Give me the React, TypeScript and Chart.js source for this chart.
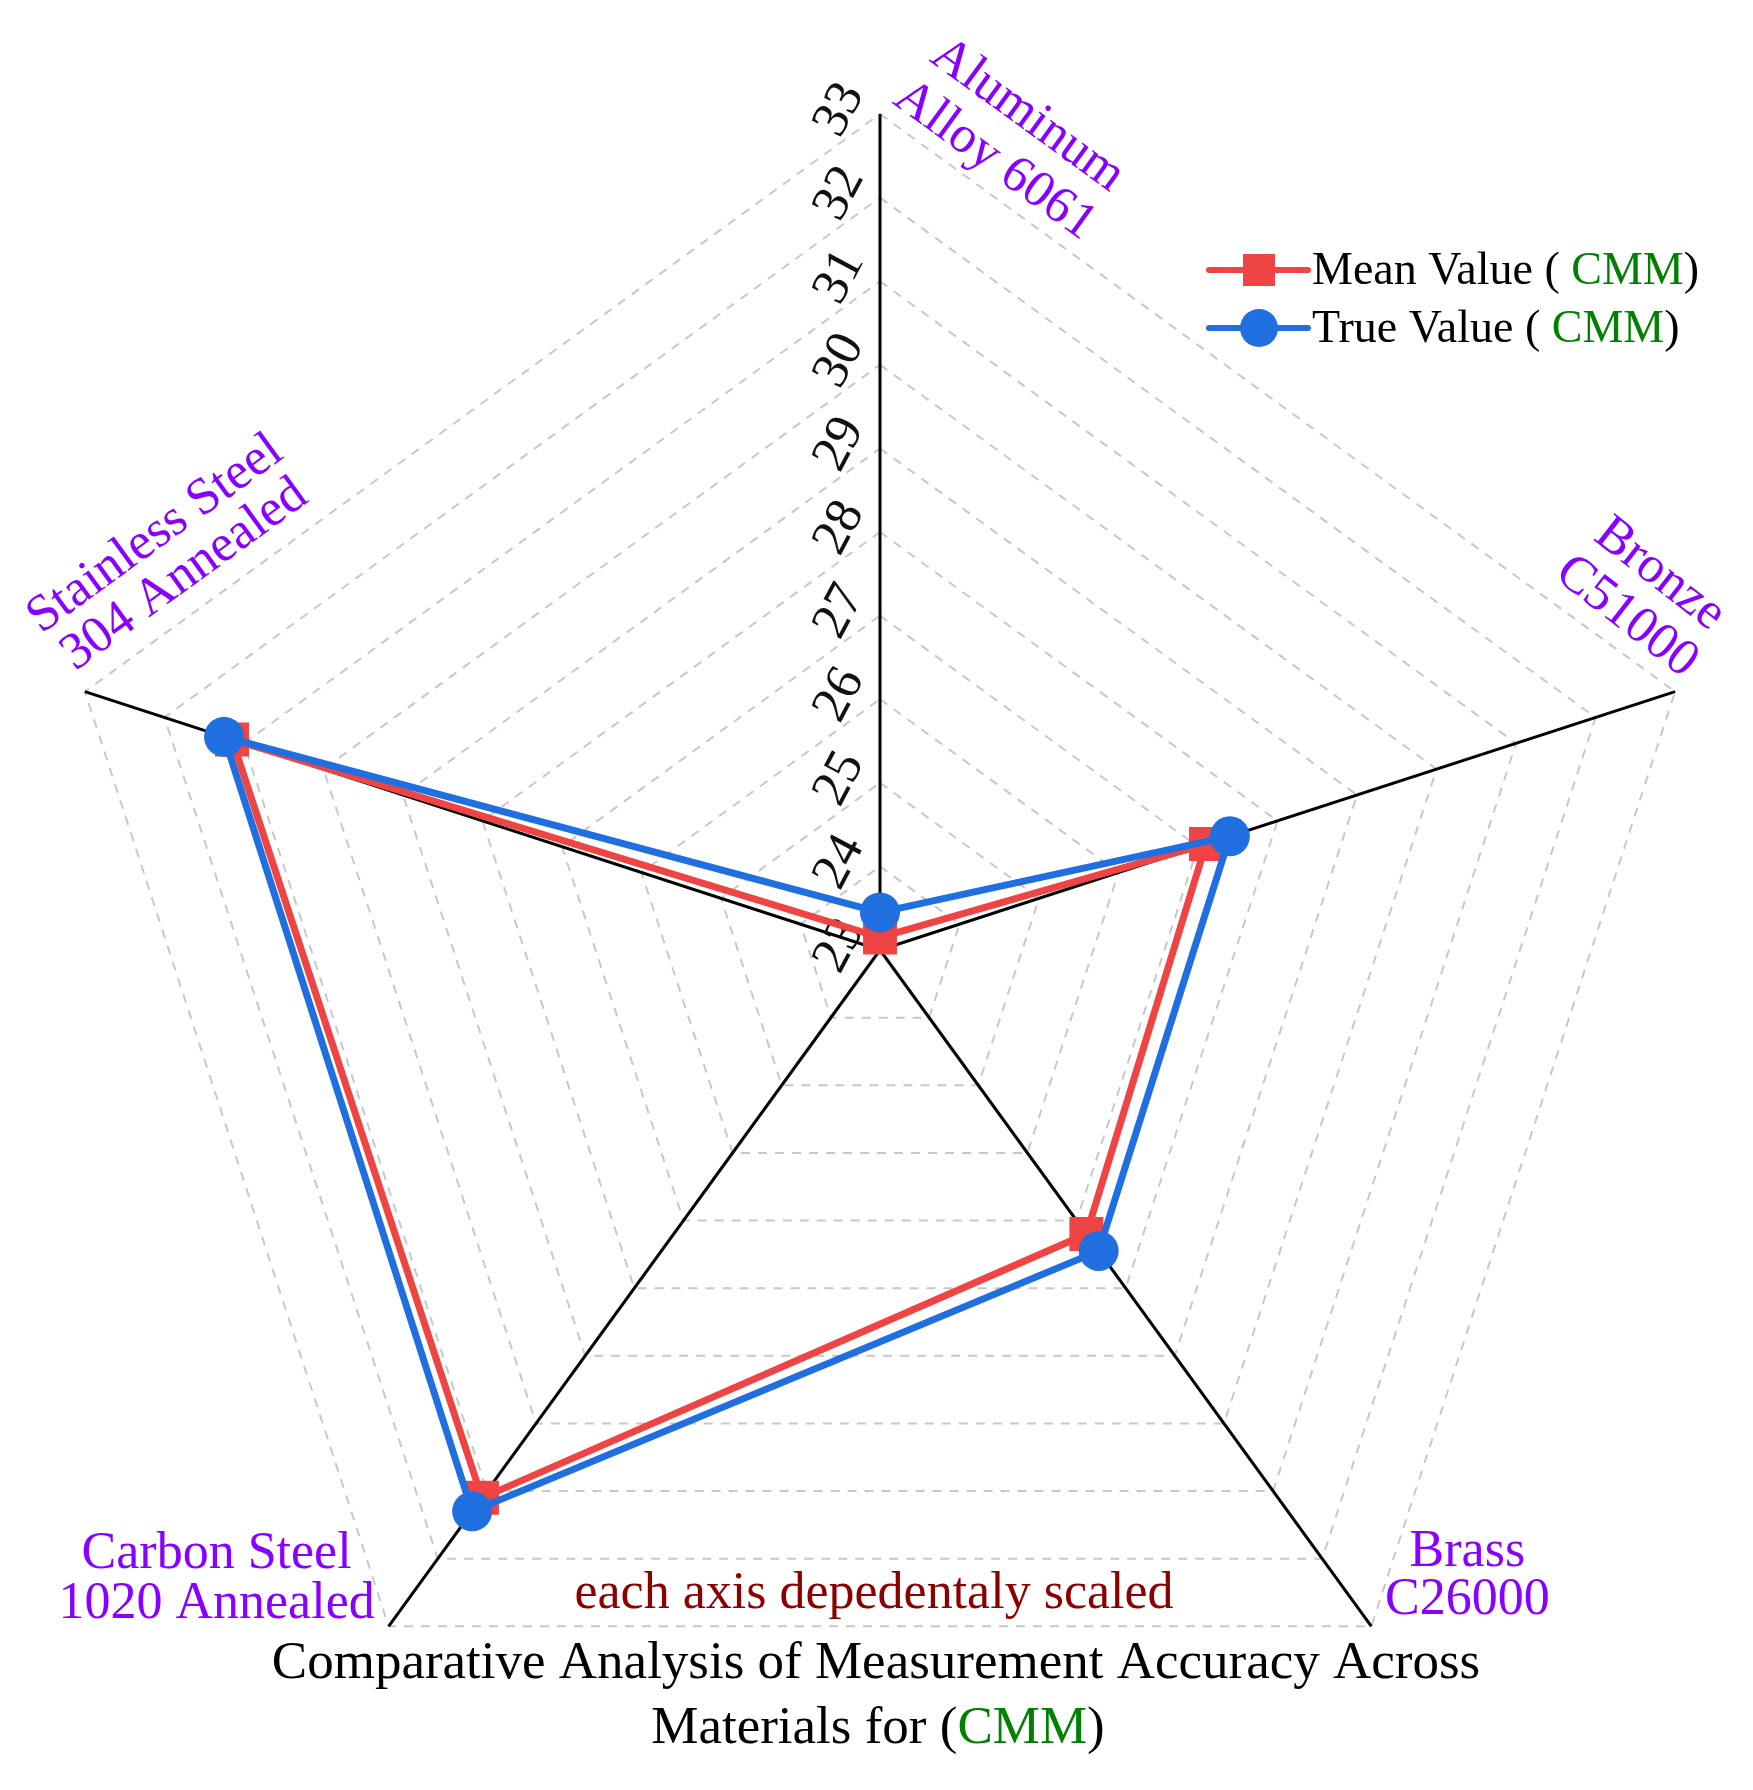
import React, { useEffect, useRef } from 'react';
import { Chart, registerables } from 'chart.js';

Chart.register(...registerables);

// ---------- data ----------
const CATEGORIES: string[][] = [
  ['Aluminum', 'Alloy 6061'],
  ['Bronze', 'C51000'],
  ['Brass', 'C26000'],
  ['Carbon Steel', '1020 Annealed'],
  ['Stainless Steel', '304 Annealed'],
];
const MEAN_VALUES = [23.15, 27.1, 27.2, 31.1, 31.15];
const TRUE_VALUES = [23.45, 27.4, 27.45, 31.3, 31.25];
const TICK_VALUES = [23, 24, 25, 26, 27, 28, 29, 30, 31, 32, 33];
const SERIES_NAMES = ['Mean Value', 'True Value'];
const LEGEND_SUFFIX = 'CMM';
const TITLE_LINE_1 = 'Comparative Analysis of Measurement Accuracy Across';
const TITLE_LINE_2 = 'Materials for (';
const NOTE_TEXT = 'each axis depedentaly scaled';

// ---------- style ----------
const RED = '#EF4444';
const BLUE = '#1F6FE0';
const PURPLE = '#8800FF';
const GREEN = '#008000';
const DARKRED = '#8B0000';
const SERIF = '"Times New Roman", "Liberation Serif", serif';

// per-axis label placement relative to the axis end: offset, rotation (deg), line gap
const LABEL_LAYOUT = [
  { dx: 131, dy: 24, rot: 36, gap: 56 },
  { dx: -32, dy: -96, rot: 38, gap: 54 },
  { dx: 96, dy: -50, rot: 0, gap: 48 },
  { dx: -172, dy: -47, rot: 0, gap: 50 },
  { dx: 85, dy: -137, rot: -36, gap: 50 },
];

function drawParts(ctx: CanvasRenderingContext2D, parts: { t: string; c: string }[], x: number, y: number, align: 'left' | 'center') {
  const total = parts.reduce((s, p) => s + ctx.measureText(p.t).width, 0);
  let cx = align === 'center' ? x - total / 2 : x;
  ctx.textAlign = 'left';
  for (const p of parts) {
    ctx.fillStyle = p.c;
    ctx.fillText(p.t, cx, y);
    cx += ctx.measureText(p.t).width;
  }
}

const tickPlugin = {
  id: 'tickLabels',
  beforeDatasetsDraw(chart: any) {
    const scale = chart.scales.r;
    const ctx = chart.ctx as CanvasRenderingContext2D;
    ctx.save();
    ctx.font = `52px ${SERIF}`;
    ctx.fillStyle = '#111';
    ctx.textAlign = 'center';
    ctx.textBaseline = 'middle';
    for (const v of TICK_VALUES) {
      const d = scale.getDistanceFromCenterForValue(v);
      const p = scale.getPointPosition(0, d);
      ctx.save();
      ctx.translate(p.x - 40, p.y - 4);
      ctx.rotate((-62 * Math.PI) / 180);
      ctx.fillText(String(v), 0, 0);
      ctx.restore();
    }
    ctx.restore();
  },
};

const decorPlugin = {
  id: 'decor',
  afterDraw(chart: any) {
    const scale = chart.scales.r;
    const ctx = chart.ctx as CanvasRenderingContext2D;
    ctx.save();
    // axis labels
    ctx.font = `52px ${SERIF}`;
    ctx.fillStyle = PURPLE;
    ctx.textAlign = 'center';
    ctx.textBaseline = 'middle';
    CATEGORIES.forEach((lines, i) => {
      const end = scale.getPointPosition(i, scale.drawingArea);
      const L = LABEL_LAYOUT[i];
      ctx.save();
      ctx.translate(end.x + L.dx, end.y + L.dy);
      ctx.rotate((L.rot * Math.PI) / 180);
      ctx.fillText(lines[0], 0, -L.gap / 2);
      ctx.fillText(lines[1], 0, L.gap / 2);
      ctx.restore();
    });

    // legend
    const rows = [
      { name: SERIES_NAMES[0], color: RED, style: 'rect', y: 270 },
      { name: SERIES_NAMES[1], color: BLUE, style: 'circle', y: 328 },
    ];
    ctx.font = `46px ${SERIF}`;
    ctx.textBaseline = 'middle';
    for (const r of rows) {
      ctx.strokeStyle = r.color;
      ctx.lineWidth = 6;
      ctx.lineCap = 'round';
      ctx.beginPath();
      ctx.moveTo(1209, r.y);
      ctx.lineTo(1308, r.y);
      ctx.stroke();
      ctx.fillStyle = r.color;
      if (r.style === 'rect') {
        ctx.fillRect(1259 - 16, r.y - 16, 32, 32);
      } else {
        ctx.beginPath();
        ctx.arc(1259, r.y, 19, 0, Math.PI * 2);
        ctx.fill();
      }
      drawParts(ctx, [
        { t: `${r.name} ( `, c: '#000' },
        { t: LEGEND_SUFFIX, c: GREEN },
        { t: ')', c: '#000' },
      ], 1312, r.y + 2, 'left');
    }

    // note
    ctx.font = `52px ${SERIF}`;
    ctx.fillStyle = DARKRED;
    ctx.textAlign = 'center';
    ctx.fillText(NOTE_TEXT, 874, 1594);

    // title
    ctx.font = `53px ${SERIF}`;
    ctx.fillStyle = '#000';
    ctx.fillText(TITLE_LINE_1, 876, 1664);
    drawParts(ctx, [
      { t: TITLE_LINE_2, c: '#000' },
      { t: LEGEND_SUFFIX, c: GREEN },
      { t: ')', c: '#000' },
    ], 878, 1729, 'center');
    ctx.restore();
  },
};

export default function App() {
  const ref = useRef<HTMLCanvasElement | null>(null);
  useEffect(() => {
    if (!ref.current) return;
    const chart = new Chart(ref.current, {
      type: 'radar',
      data: {
        labels: CATEGORIES.map((c) => c.join(' ')),
        datasets: [
          {
            label: SERIES_NAMES[0],
            data: MEAN_VALUES,
            borderColor: RED,
            backgroundColor: RED,
            pointBackgroundColor: RED,
            pointBorderColor: RED,
            pointBorderWidth: 0,
            borderWidth: 7,
            pointStyle: 'rect',
            pointRadius: 24,
            fill: false,
            tension: 0,
            order: 2,
          },
          {
            label: SERIES_NAMES[1],
            data: TRUE_VALUES,
            borderColor: BLUE,
            backgroundColor: BLUE,
            pointBackgroundColor: BLUE,
            pointBorderColor: BLUE,
            pointBorderWidth: 0,
            borderWidth: 7,
            pointStyle: 'circle',
            pointRadius: 20,
            fill: false,
            tension: 0,
            order: 1,
          },
        ],
      },
      options: {
        responsive: false,
        animation: false,
        devicePixelRatio: 1,
        layout: { padding: { left: 44, right: 37, top: 114, bottom: 4 } },
        plugins: {
          legend: { display: false },
          title: { display: false },
          tooltip: { enabled: false },
        },
        elements: { line: { borderJoinStyle: 'miter' } },
        scales: {
          r: {
            min: 23,
            max: 33,
            ticks: { stepSize: 1, display: false },
            pointLabels: { display: false },
            grid: { color: '#c8c8c8', lineWidth: 2, circular: false },
            border: { dash: [9, 8] },
            angleLines: { color: '#000', lineWidth: 3 },
          },
        },
      },
      plugins: [tickPlugin, decorPlugin],
    } as any);
    return () => chart.destroy();
  }, []);
  return (
    <div style={{ position: 'absolute', left: 0, top: 0, width: 1753, height: 1790, background: '#fff' }}>
      <canvas ref={ref} width={1753} height={1790} style={{ display: 'block' }} />
    </div>
  );
}
